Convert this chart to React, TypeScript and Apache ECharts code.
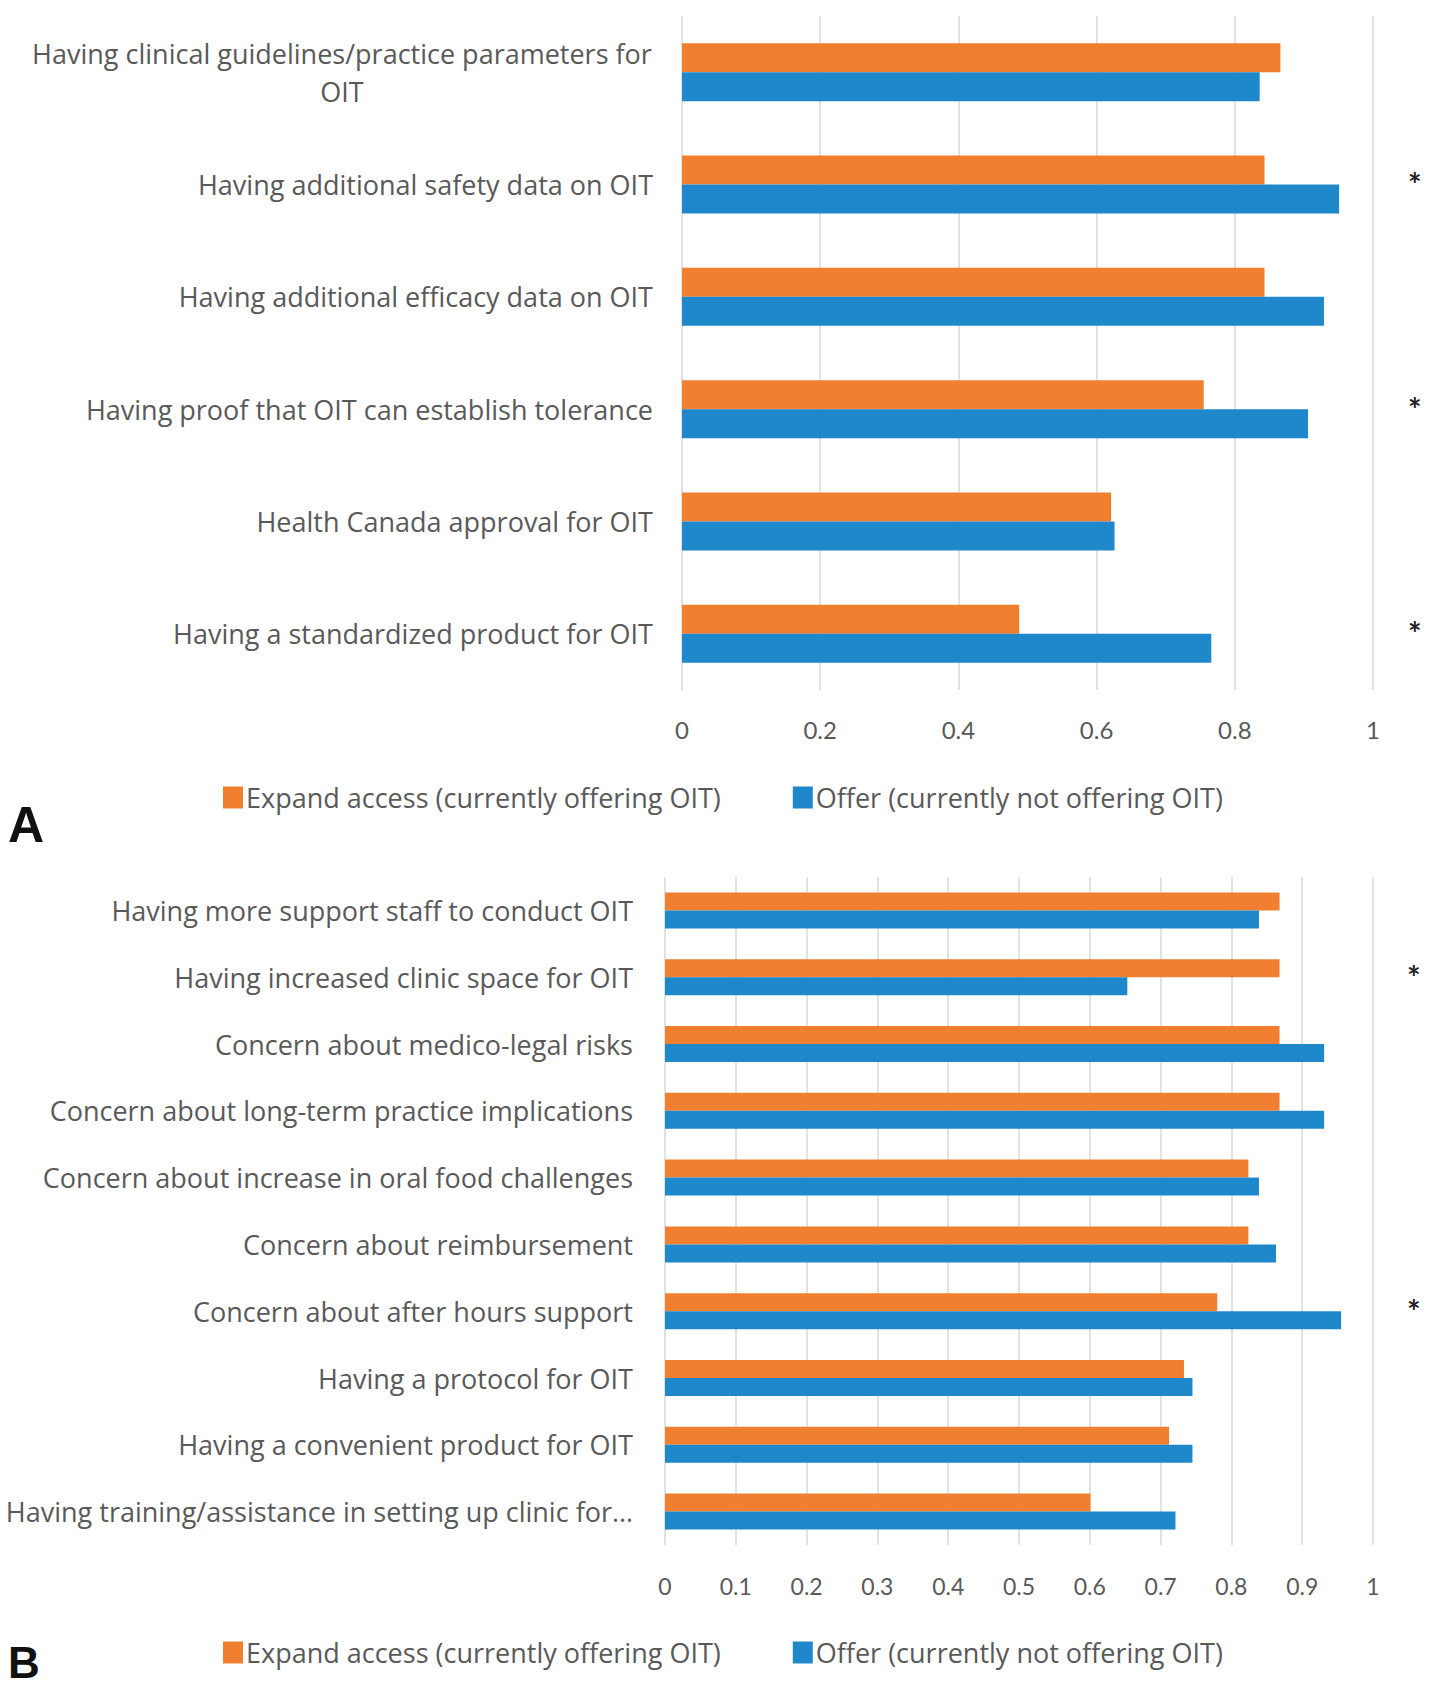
import React, { useEffect, useRef } from 'react';
import * as echarts from 'echarts';

const seriesNames = ['Expand access (currently offering OIT)', 'Offer (currently not offering OIT)'];

const categoriesA = [
  'Having clinical guidelines/practice parameters for\nOIT',
  'Having additional safety data on OIT',
  'Having additional efficacy data on OIT',
  'Having proof that OIT can establish tolerance',
  'Health Canada approval for OIT',
  'Having a standardized product for OIT',
];
const expandA = [0.866, 0.843, 0.843, 0.755, 0.621, 0.488];
const offerA = [0.836, 0.951, 0.929, 0.906, 0.626, 0.766];
const significantA = [false, true, false, true, false, true];

const categoriesB = [
  'Having more support staff to conduct OIT',
  'Having increased clinic space for OIT',
  'Concern about medico-legal risks',
  'Concern about long-term practice implications',
  'Concern about increase in oral food challenges',
  'Concern about reimbursement',
  'Concern about after hours support',
  'Having a protocol for OIT',
  'Having a convenient product for OIT',
  'Having training/assistance in setting up clinic for…',
];
const expandB = [0.868, 0.868, 0.868, 0.868, 0.824, 0.824, 0.78, 0.733, 0.712, 0.601];
const offerB = [0.839, 0.653, 0.931, 0.931, 0.839, 0.863, 0.955, 0.745, 0.745, 0.721];
const significantB = [false, true, false, false, false, false, true, false, false, false];

const axisMin = 0;
const axisMax = 1;
const intervalA = 0.2;
const intervalB = 0.1;

const ORANGE = '#F0802F';
const BLUE = '#1F88CB';
const GRAY = '#595959';
const FONT = '"Open Sans", Lato, sans-serif';
const TICK_FONT = 'Lato, sans-serif';
const LABEL_SIZE = 27;

export default function App() {
  const ref = useRef<HTMLDivElement>(null);
  useEffect(() => {
    if (!ref.current) return;
    const chart = echarts.init(ref.current, null, { renderer: 'svg' });

    const canvas = document.createElement('canvas');
    const ctx = canvas.getContext('2d')!;
    ctx.font = `${LABEL_SIZE}px ${FONT}`;
    const wrapWidth = Math.ceil(
      Math.max(...categoriesA.filter((c) => c.includes('\n')).flatMap((c) => c.split('\n')).map((l) => ctx.measureText(l).width))
    ) + 2;

    const labelStyle = { fontFamily: FONT, fontSize: LABEL_SIZE, color: GRAY };
    const catFormatter = (v: string) =>
      v.includes('\n') ? v.split('\n').map((l) => `{c|${l}}`).join('\n') : v;

    const mkBars = (name: string, data: number[], color: string, idx: number, width: number) => ({
      name,
      type: 'bar',
      xAxisIndex: idx,
      yAxisIndex: idx * 2,
      data,
      barWidth: width,
      barGap: '0%',
      itemStyle: { color },
    });

    const legendBase = {
      data: seriesNames,
      left: 218,
      icon: 'rect',
      itemWidth: 20,
      itemHeight: 22,
      itemGap: 72,
      selectedMode: false,
      textStyle: { ...labelStyle, fontSize: 27, padding: [0, 0, 0, -2] },
    };

    chart.setOption({
      animation: false,
      backgroundColor: '#ffffff',
      grid: [
        { left: 682, right: 65, top: 16, height: 674 },
        { left: 665, right: 65, top: 877, height: 668 },
      ],
      legend: [
        { ...legendBase, top: 779 },
        { ...legendBase, top: 1634 },
      ],
      xAxis: [
        {
          type: 'value', gridIndex: 0, min: axisMin, max: axisMax, interval: intervalA,
          axisLine: { show: false }, axisTick: { show: false },
          splitLine: { show: true, lineStyle: { color: '#D9D9D9', width: 1.5 } },
          axisLabel: { fontFamily: TICK_FONT, color: GRAY, fontSize: 24, margin: 27 },
        },
        {
          type: 'value', gridIndex: 1, min: axisMin, max: axisMax, interval: intervalB,
          axisLine: { show: false }, axisTick: { show: false },
          splitLine: { show: true, lineStyle: { color: '#D9D9D9', width: 1.5 } },
          axisLabel: { fontFamily: TICK_FONT, color: GRAY, fontSize: 23, margin: 29 },
        },
      ],
      yAxis: [
        {
          type: 'category', gridIndex: 0, inverse: true, data: categoriesA,
          axisLine: { show: false }, axisTick: { show: false },
          axisLabel: {
            ...labelStyle, interval: 0, margin: 29, lineHeight: 38,
            formatter: catFormatter,
            rich: { c: { ...labelStyle, width: wrapWidth, align: 'center', lineHeight: 38 } },
          },
        },
        {
          type: 'category', gridIndex: 0, inverse: true, position: 'right',
          data: significantA.map((s) => (s ? '*' : '')),
          axisLine: { show: false }, axisTick: { show: false },
          axisLabel: { interval: 0, margin: 35, fontSize: 32, fontWeight: 'bold', color: '#222', fontFamily: TICK_FONT, padding: [20, 0, 0, 0] },
        },
        {
          type: 'category', gridIndex: 1, inverse: true, data: categoriesB,
          axisLine: { show: false }, axisTick: { show: false },
          axisLabel: { ...labelStyle, interval: 0, margin: 32 },
        },
        {
          type: 'category', gridIndex: 1, inverse: true, position: 'right',
          data: significantB.map((s) => (s ? '*' : '')),
          axisLine: { show: false }, axisTick: { show: false },
          axisLabel: { interval: 0, margin: 34, fontSize: 32, fontWeight: 'bold', color: '#222', fontFamily: TICK_FONT, padding: [20, 0, 0, 0] },
        },
      ],
      series: [
        mkBars(seriesNames[0], expandA, ORANGE, 0, 29),
        mkBars(seriesNames[1], offerA, BLUE, 0, 29),
        mkBars(seriesNames[0], expandB, ORANGE, 1, 18),
        mkBars(seriesNames[1], offerB, BLUE, 1, 18),
      ],
      graphic: [
        { type: 'text', left: 8, top: 800, style: { text: 'A', font: 'bold 50px "Liberation Sans", Arial, sans-serif', fill: '#111' } },
        { type: 'text', left: 8, top: 1640, style: { text: 'B', font: 'bold 44px "Liberation Sans", Arial, sans-serif', fill: '#111' } },
      ],
    });
    return () => chart.dispose();
  }, []);
  return (
    <div
      ref={ref}
      style={{ position: 'absolute', left: 0, top: 0, width: 1438, height: 1693, background: '#fff' }}
    />
  );
}
